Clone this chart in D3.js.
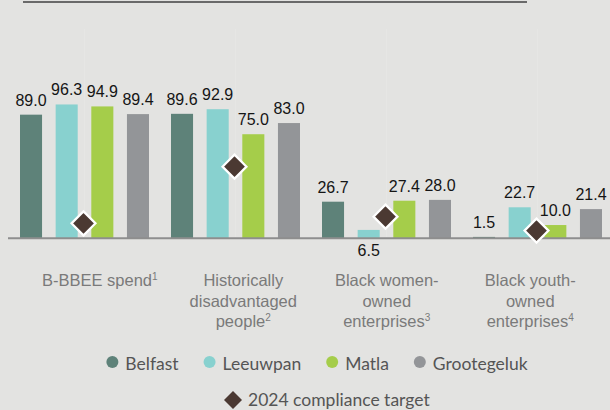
<!DOCTYPE html>
<html><head><meta charset="utf-8">
<script src="https://cdn.jsdelivr.net/npm/d3@7"></script>
<style>
html,body{margin:0;padding:0;background:#e3e3e1;}
svg{display:block;}
</style></head>
<body>
<svg id="chart" width="610" height="410"></svg>
<script>
// ---- data ----
const categories = ["B-BBEE spend", "Historically disadvantaged people", "Black women-owned enterprises", "Black youth-owned enterprises"];
const categoryLines = [["B-BBEE spend|1"], ["Historically", "disadvantaged", "people|2"], ["Black women-", "owned", "enterprises|3"], ["Black youth-", "owned", "enterprises|4"]];
const seriesNames = ["Belfast", "Leeuwpan", "Matla", "Grootegeluk"];
const belfast = [89.0, 89.6, 26.7, 1.5];
const leeuwpan = [96.3, 92.9, 6.5, 22.7];
const matla = [94.9, 75.0, 27.4, 10.0];
const grootegeluk = [89.4, 83.0, 28.0, 21.4];
const target2024 = [11.2, 51.8, 16.0, 6.0];
const targetName = "2024 compliance target";

const colors = {Belfast:"#5e8279", Leeuwpan:"#88d1cf", Matla:"#a5cd4a", Grootegeluk:"#939598"};
const seriesVals = [belfast, leeuwpan, matla, grootegeluk];

const svg = d3.select("#chart");
const W = 610, H = 410;
svg.append("rect").attr("width", W).attr("height", H).attr("fill", "#e3e3e1");

// scales
const x0 = d3.scaleBand().domain(categories).range([9, 613]).paddingInner(22/151).paddingOuter(11/151);
const x1 = d3.scaleBand().domain(seriesNames).range([0, x0.bandwidth()]).paddingInner(0.3815).paddingOuter(0);
const y = d3.scaleLinear().domain([0, 100]).range([239, 99.3]);
const xLab = d3.scaleBand().domain(categories).range([28, 602]);

// top clipped title rule
svg.append("line").attr("x1", 23).attr("x2", 527).attr("y1", 2).attr("y2", 2)
  .attr("stroke", "#6a6a6a").attr("stroke-width", 1.8);

// faint group guides
svg.selectAll("line.guide").data(categories).enter().append("line")
  .attr("class","guide")
  .attr("x1", d => x0(d) + x0.bandwidth()/2).attr("x2", d => x0(d) + x0.bandwidth()/2)
  .attr("y1", 29).attr("y2", 237).attr("stroke", "#e6e6e4").attr("stroke-width", 1);

// bars
const barData = [];
categories.forEach((c, i) => {
  seriesNames.forEach((s, j) => barData.push({cat: c, ci: i, s, v: seriesVals[j][i]}));
});
svg.selectAll("rect.bar").data(barData).enter().append("rect")
  .attr("class","bar")
  .attr("x", d => x0(d.cat) + x1(d.s))
  .attr("y", d => y(d.v))
  .attr("width", x1.bandwidth())
  .attr("height", d => y(0) - y(d.v))
  .attr("fill", d => colors[d.s]);

// baseline
svg.append("line").attr("x1", 8).attr("x2", 610).attr("y1", 238.2).attr("y2", 238.2)
  .attr("stroke", "#8e8e8e").attr("stroke-width", 2);

// diamond target markers
const dHalf = 12;
const diamond = h => `M0,${-h}L${h},0L0,${h}L${-h},0Z`;
svg.selectAll("path.target").data(categories).enter().append("path")
  .attr("class","target")
  .attr("d", diamond(dHalf))
  .attr("transform", (d, i) => `translate(${x0(d) + x0.bandwidth()/2 - 1},${y(target2024[i])})`)
  .attr("fill", "#4b3932").attr("stroke", "#ffffff").attr("stroke-width", 2.2);

// value labels
const fs = 16;
svg.selectAll("text.val").data(barData).enter().append("text")
  .attr("class","val")
  .attr("x", d => x0(d.cat) + x1(d.s) + x1.bandwidth()/2)
  .attr("y", d => {
    const cx = x0(d.cat) + x1(d.s) + x1.bandwidth()/2;
    const tx = x0(d.cat) + x0.bandwidth()/2;
    const ty = y(target2024[d.ci]);
    const base = y(d.v) - 9;
    const xOverlap = Math.abs(cx - tx) < dHalf + x1.bandwidth()/2;
    const yOverlap = base > ty - dHalf && base - 11 < ty + dHalf;
    return (xOverlap && yOverlap) ? 256 : base;
  })
  .attr("text-anchor","middle")
  .attr("font-family","'Liberation Sans', Arial, sans-serif")
  .attr("font-size", fs).attr("fill", "#151515")
  .text(d => d.v.toFixed(1));

// category labels
const catG = svg.selectAll("g.cat").data(categories).enter().append("g").attr("class","cat")
  .attr("transform", d => `translate(${xLab(d) + xLab.bandwidth()/2},0)`);
catG.each(function(d, i) {
  const g = d3.select(this);
  const t = g.append("text").attr("text-anchor","middle")
    .attr("font-family","'Liberation Sans', Arial, sans-serif")
    .attr("font-size", 16.5).attr("fill", "#7a7a7a");
  categoryLines[i].forEach((ln, k) => {
    const [main, sup] = ln.split("|");
    t.append("tspan").attr("x", 0).attr("y", 286 + k * 20.5).text(main);
    if (sup) t.append("tspan").attr("dy", -6).attr("font-size", 10).text(sup);
  });
});

// legend row 1
const legFont = "Lato, 'Open Sans', sans-serif";
const leg = svg.append("g");
let cx = 0;
const gap = 25;
seriesNames.forEach(s => {
  const it = leg.append("g").attr("transform", `translate(${cx},0)`);
  it.append("circle").attr("cx", 6).attr("cy", 0).attr("r", 6).attr("fill", colors[s]);
  const tt = it.append("text").attr("x", 19).attr("y", 7.5)
    .attr("font-family", legFont).attr("font-size", 17.5).attr("fill", "#555555").text(s);
  cx += 19 + tt.node().getComputedTextLength() + gap;
});
const legW = cx - gap;
leg.attr("transform", `translate(${317 - legW/2},362)`);

// legend row 2
const leg2 = svg.append("g");
leg2.append("path").attr("d", diamond(9)).attr("transform", "translate(9,0)").attr("fill", "#4b3932");
leg2.append("text").attr("x", 24).attr("y", 6)
  .attr("font-family", legFont).attr("font-size", 17.5).attr("fill", "#555555").text(targetName);
leg2.attr("transform", `translate(224,400)`);
</script>
</body></html>
